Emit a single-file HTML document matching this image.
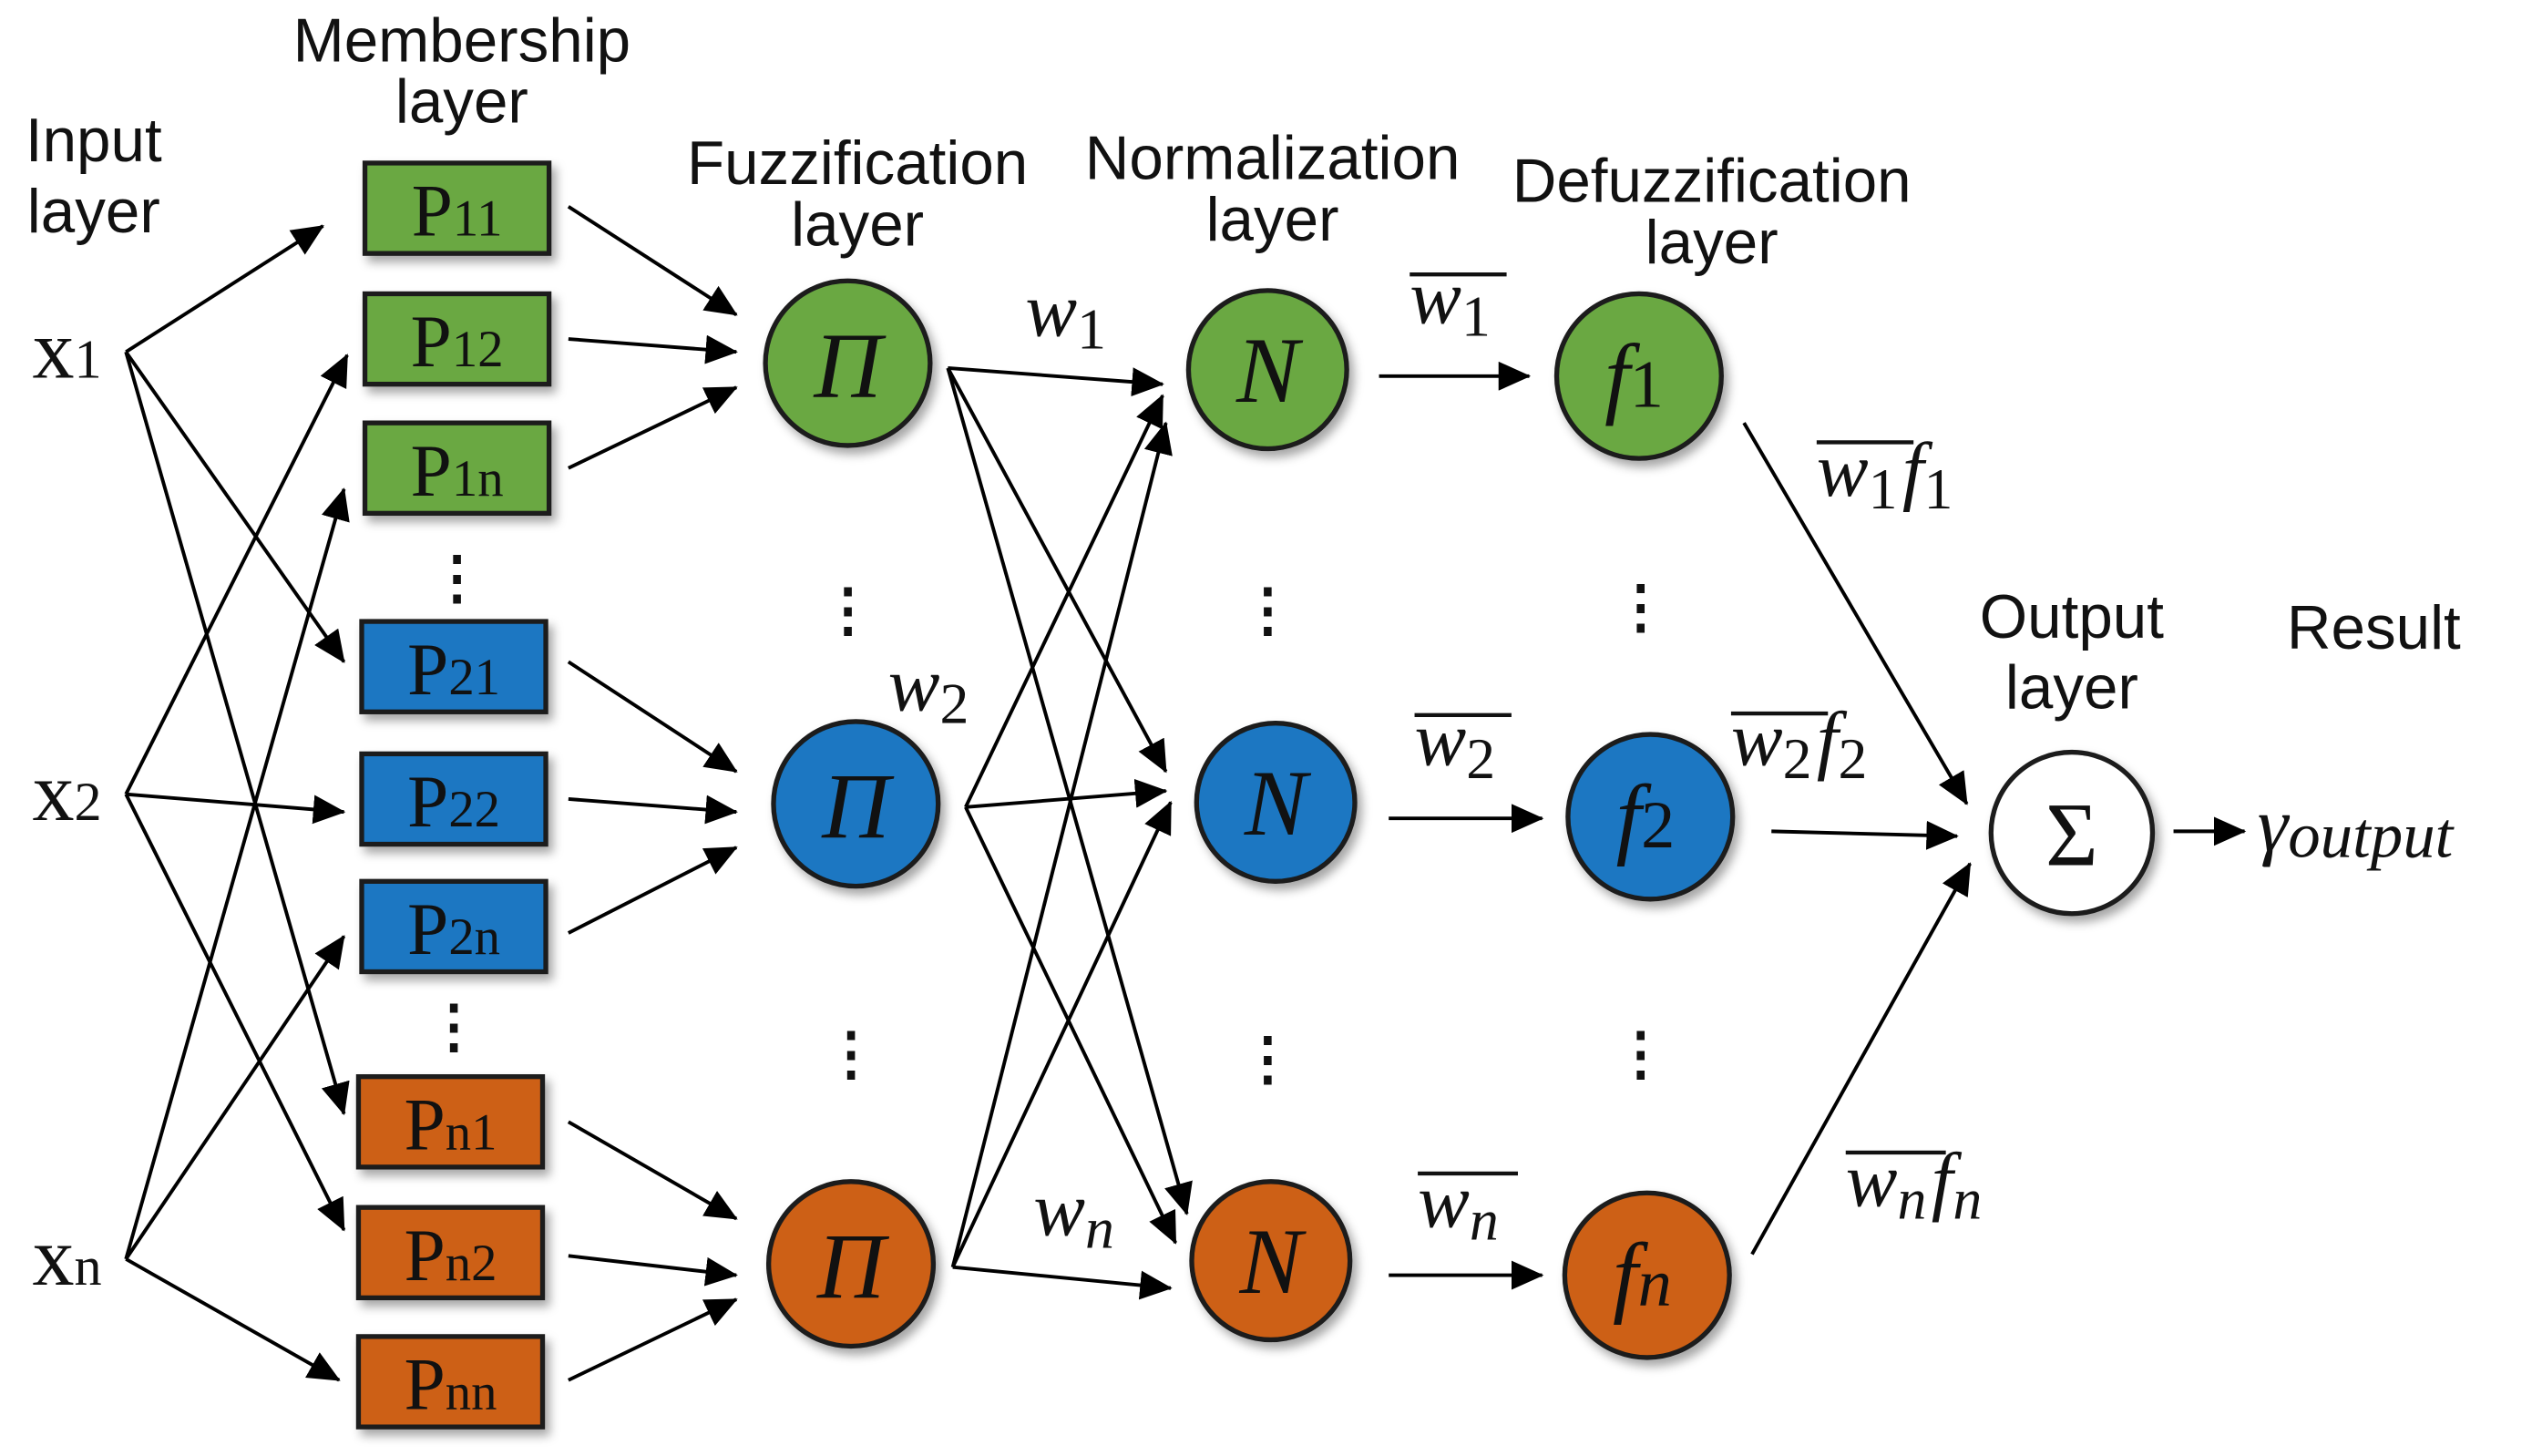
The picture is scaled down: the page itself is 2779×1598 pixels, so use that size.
<!DOCTYPE html>
<html><head><meta charset="utf-8"><style>
html,body{margin:0;padding:0;background:#fff;width:2779px;height:1598px;overflow:hidden}
svg{display:block}
.lbl{font-family:"Liberation Sans",sans-serif;font-size:38px;fill:#111;text-anchor:middle}
.p{font-family:"Liberation Serif",serif;font-size:46px;fill:#111;text-anchor:middle}
.m{font-family:"Liberation Serif",serif;font-style:italic;font-size:48px;fill:#111}
.x{font-family:"Liberation Serif",serif;font-size:52px;fill:#111}
</style></head><body>
<svg width="2779" height="1598" viewBox="0 0 1568 902" preserveAspectRatio="none" xmlns="http://www.w3.org/2000/svg">
<defs>
<marker id="b" markerWidth="20" markerHeight="18" refX="19" refY="9" orient="auto" markerUnits="userSpaceOnUse" viewBox="0 0 20 18">
<path d="M0,0 L20,9 L0,18 z" fill="#000"/></marker>
<filter id="s" x="-20%" y="-20%" width="150%" height="150%"><feDropShadow dx="3" dy="4" stdDeviation="3" flood-color="#000" flood-opacity="0.35"/></filter>
</defs>
<g stroke="#000" stroke-width="2.2" fill="none" marker-end="url(#b)">
<line x1="78" y1="218" x2="200" y2="140"/>
<line x1="78" y1="218" x2="213" y2="410"/>
<line x1="78" y1="218" x2="213" y2="690"/>
<line x1="78" y1="492" x2="215" y2="220"/>
<line x1="78" y1="492" x2="213" y2="503"/>
<line x1="78" y1="492" x2="213" y2="762"/>
<line x1="78" y1="780" x2="213" y2="303"/>
<line x1="78" y1="780" x2="213" y2="580"/>
<line x1="78" y1="780" x2="210" y2="855"/>
<line x1="352" y1="128" x2="456" y2="195"/>
<line x1="352" y1="210" x2="456" y2="218"/>
<line x1="352" y1="290" x2="456" y2="240"/>
<line x1="352" y1="410" x2="456" y2="478"/>
<line x1="352" y1="495" x2="456" y2="503"/>
<line x1="352" y1="578" x2="456" y2="525"/>
<line x1="352" y1="695" x2="456" y2="755"/>
<line x1="352" y1="778" x2="456" y2="790"/>
<line x1="352" y1="855" x2="456" y2="805"/>
<line x1="587" y1="228" x2="720" y2="238"/>
<line x1="587" y1="228" x2="722" y2="478"/>
<line x1="587" y1="228" x2="735" y2="752"/>
<line x1="598" y1="500" x2="720" y2="245"/>
<line x1="598" y1="500" x2="722" y2="490"/>
<line x1="598" y1="500" x2="728" y2="770"/>
<line x1="590" y1="785" x2="722" y2="262"/>
<line x1="590" y1="785" x2="725" y2="497"/>
<line x1="590" y1="785" x2="725" y2="798"/>
<line x1="854" y1="233" x2="947" y2="233"/>
<line x1="860" y1="507" x2="955" y2="507"/>
<line x1="860" y1="790" x2="955" y2="790"/>
<line x1="1080" y1="262" x2="1218" y2="498"/>
<line x1="1097" y1="515" x2="1212" y2="518"/>
<line x1="1085" y1="777" x2="1220" y2="535"/>
<line x1="1346" y1="515" x2="1390" y2="515"/>
</g>
<g stroke="#1a1a1a" stroke-width="3" filter="url(#s)">
<rect x="226" y="101" width="114" height="56" fill="#6aa843"/>
<rect x="226" y="182" width="114" height="56" fill="#6aa843"/>
<rect x="226" y="262" width="114" height="56" fill="#6aa843"/>
<rect x="224" y="385" width="114" height="56" fill="#1a77c2"/>
<rect x="224" y="467" width="114" height="56" fill="#1a77c2"/>
<rect x="224" y="546" width="114" height="56" fill="#1a77c2"/>
<rect x="222" y="667" width="114" height="56" fill="#cd6116"/>
<rect x="222" y="748" width="114" height="56" fill="#cd6116"/>
<rect x="222" y="828" width="114" height="56" fill="#cd6116"/>
</g>
<g>
<text x="283" y="146" class="p">P<tspan font-size="32">11</tspan></text>
<text x="283" y="227" class="p">P<tspan font-size="32">12</tspan></text>
<text x="283" y="307" class="p">P<tspan font-size="32">1n</tspan></text>
<text x="281" y="430" class="p">P<tspan font-size="32">21</tspan></text>
<text x="281" y="512" class="p">P<tspan font-size="32">22</tspan></text>
<text x="281" y="591" class="p">P<tspan font-size="32">2n</tspan></text>
<text x="279" y="712" class="p">P<tspan font-size="32">n1</tspan></text>
<text x="279" y="793" class="p">P<tspan font-size="32">n2</tspan></text>
<text x="279" y="873" class="p">P<tspan font-size="32">nn</tspan></text>
</g>
<g stroke="#1a1a1a" stroke-width="3" filter="url(#s)">
<circle cx="525" cy="225" r="51" fill="#6aa843"/>
<circle cx="530" cy="498" r="51" fill="#1a77c2"/>
<circle cx="527" cy="783" r="51" fill="#cd6116"/>
<circle cx="785" cy="229" r="49" fill="#6aa843"/>
<circle cx="790" cy="497" r="49" fill="#1a77c2"/>
<circle cx="787" cy="781" r="49" fill="#cd6116"/>
<circle cx="1015" cy="233" r="51" fill="#6aa843"/>
<circle cx="1022" cy="506" r="51" fill="#1a77c2"/>
<circle cx="1020" cy="790" r="51" fill="#cd6116"/>
<circle cx="1283" cy="516" r="50" fill="#fff"/>
</g>
<g class="m" text-anchor="middle">
<text x="525" y="246" font-size="58">Π</text>
<text x="530" y="519" font-size="58">Π</text>
<text x="527" y="804" font-size="58">Π</text>
<text x="785" y="249" font-size="58">N</text>
<text x="790" y="517" font-size="58">N</text>
<text x="787" y="801" font-size="58">N</text>
<text x="1012" y="252" font-size="56">f<tspan font-style="normal" font-size="42">1</tspan></text>
<text x="1019" y="525" font-size="56">f<tspan font-style="normal" font-size="42">2</tspan></text>
<text x="1017" y="809" font-size="56">f<tspan font-size="42">n</tspan></text>
</g>
<text x="1283" y="536" text-anchor="middle" font-family="Liberation Serif,serif" font-size="56" fill="#111">Σ</text>
<text class="lbl" x="58" y="100">Input</text>
<text class="lbl" x="58" y="144">layer</text>
<text class="lbl" x="286" y="38" font-size="32">Membership</text>
<text class="lbl" x="286" y="76" font-size="32">layer</text>
<text class="lbl" x="531" y="114" font-size="32">Fuzzification</text>
<text class="lbl" x="531" y="152" font-size="32">layer</text>
<text class="lbl" x="788" y="111" font-size="32">Normalization</text>
<text class="lbl" x="788" y="149" font-size="32">layer</text>
<text class="lbl" x="1060" y="125" font-size="32">Defuzzification</text>
<text class="lbl" x="1060" y="163" font-size="32">layer</text>
<text class="lbl" x="1283" y="395">Output</text>
<text class="lbl" x="1283" y="439">layer</text>
<text class="lbl" x="1470" y="402">Result</text>
<text class="x" x="20" y="234">x<tspan font-size="34">1</tspan></text>
<text class="x" x="20" y="508">x<tspan font-size="34">2</tspan></text>
<text class="x" x="20" y="796">x<tspan font-size="34">n</tspan></text>
<g fill="#111" font-family="Liberation Serif,serif" font-size="36" text-anchor="middle" font-weight="bold">
<text x="283" y="370">⋮</text><text x="281" y="648">⋮</text>
<text x="525" y="390">⋮</text><text x="527" y="665">⋮</text>
<text x="785" y="390">⋮</text><text x="785" y="668">⋮</text>
<text x="1016" y="388">⋮</text><text x="1016" y="665">⋮</text>
</g>
<text class="m" x="635" y="208">w<tspan font-style="normal" font-size="36" dy="8">1</tspan></text>
<text class="m" x="550" y="440">w<tspan font-style="normal" font-size="36" dy="8">2</tspan></text>
<text class="m" x="640" y="765">w<tspan font-size="36" dy="8">n</tspan></text>
<text class="m" x="873" y="200">w<tspan font-style="normal" font-size="36" dy="8">1</tspan></text>
<line x1="873" y1="170" x2="933" y2="170" stroke="#111" stroke-width="2.5"/>
<text class="m" x="876" y="474">w<tspan font-style="normal" font-size="36" dy="8">2</tspan></text>
<line x1="876" y1="443" x2="936" y2="443" stroke="#111" stroke-width="2.5"/>
<text class="m" x="878" y="760">w<tspan font-size="36" dy="8">n</tspan></text>
<line x1="878" y1="727" x2="940" y2="727" stroke="#111" stroke-width="2.5"/>
<text class="m" x="1125" y="307">w<tspan font-style="normal" font-size="36" dy="8">1</tspan><tspan dy="-8" dx="3">f</tspan><tspan font-style="normal" font-size="36" dy="8">1</tspan></text>
<line x1="1125" y1="274" x2="1185" y2="274" stroke="#111" stroke-width="2.5"/>
<text class="m" x="1072" y="474">w<tspan font-style="normal" font-size="36" dy="8">2</tspan><tspan dy="-8" dx="3">f</tspan><tspan font-style="normal" font-size="36" dy="8">2</tspan></text>
<line x1="1072" y1="442" x2="1132" y2="442" stroke="#111" stroke-width="2.5"/>
<text class="m" x="1143" y="747">w<tspan font-size="36" dy="8">n</tspan><tspan dy="-8" dx="3">f</tspan><tspan font-size="36" dy="8">n</tspan></text>
<line x1="1143" y1="714" x2="1205" y2="714" stroke="#111" stroke-width="2.5"/>
<text class="m" x="1398" y="527" font-size="48">γ<tspan font-size="40" dy="4">output</tspan></text>
</svg>
</body></html>
